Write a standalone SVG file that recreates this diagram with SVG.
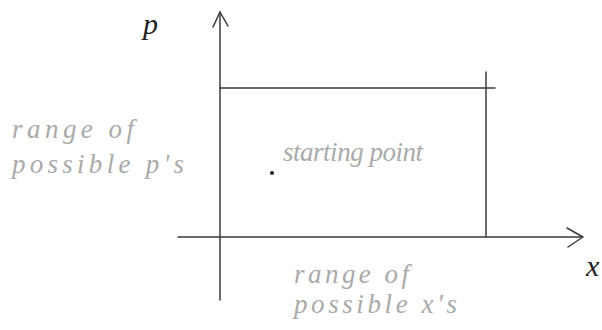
<svg xmlns="http://www.w3.org/2000/svg" width="602" height="330" viewBox="0 0 602 330">
<style>
.ln{stroke:#3a3a3a;stroke-width:1.5;fill:none;stroke-linecap:round;stroke-linejoin:round}
.lbl{font-family:"Liberation Serif",serif;font-style:italic;fill:#aaaaaa;font-size:27px}
.ax{font-family:"Liberation Serif",serif;font-style:italic;fill:#222;font-size:30px}
</style>
<rect width="602" height="330" fill="#fff"/>
<g id="connectors">
<path class="ln" d="M220,12 L220,300"/>
<path class="ln" d="M213,27 L220,12 L228,26"/>
<path class="ln" d="M178,237 L582,237"/>
<path class="ln" d="M567,228 L583,237 L568,247"/>
<path class="ln" d="M220,88 L495,88"/>
<path class="ln" d="M486,72 L486,237"/>
</g>
<g id="starting-point">
<circle cx="272" cy="173" r="2" fill="#222"/>
<text class="lbl" x="283" y="161" font-size="24" textLength="140" lengthAdjust="spacing">starting point</text>
</g>
<g id="axis-p"><text class="ax" x="143" y="34">p</text></g>
<g id="axis-x"><text class="ax" x="586" y="276" font-size="26">x</text></g>
<g id="range-p">
<text class="lbl" x="12" y="138" textLength="122" lengthAdjust="spacing">range of</text>
<text class="lbl" x="12" y="173" textLength="172" lengthAdjust="spacing">possible p's</text>
</g>
<g id="range-x">
<text class="lbl" x="294" y="283" textLength="115" lengthAdjust="spacing">range of</text>
<text class="lbl" x="294" y="313" textLength="163" lengthAdjust="spacing">possible x's</text>
</g>
</svg>
